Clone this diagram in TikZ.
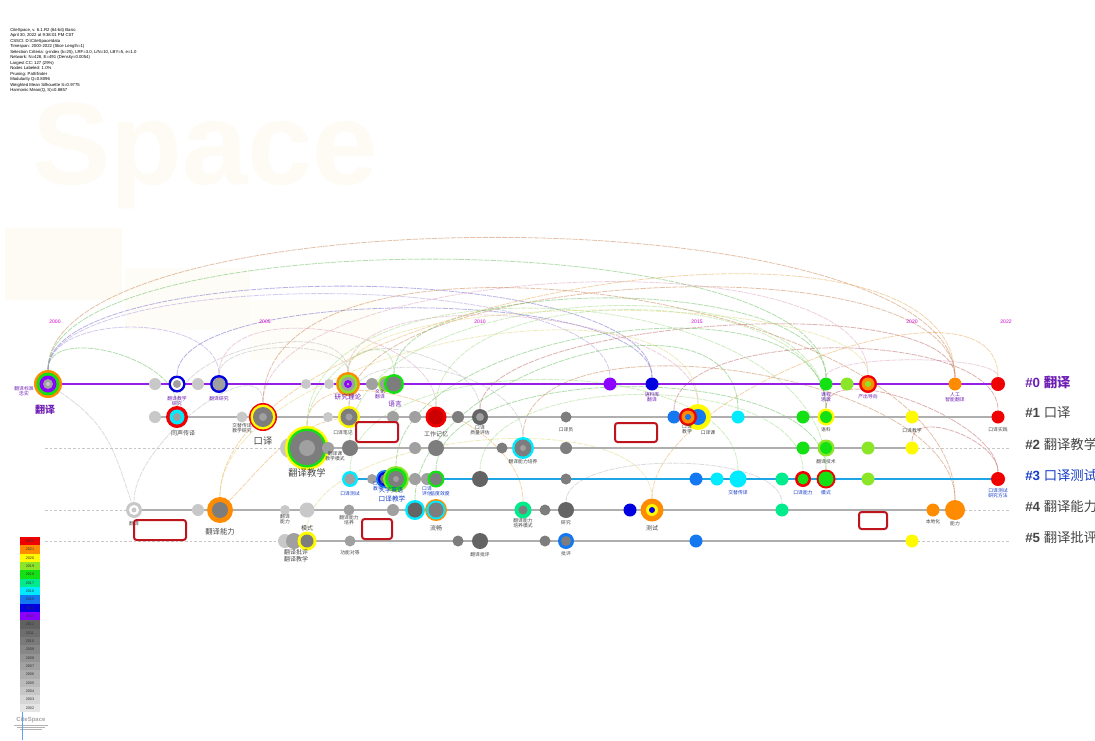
\documentclass[tikz,border=0pt]{standalone}
\usepackage{fontspec}
\setmainfont{Liberation Sans}
\newfontfamily\cjk{Noto Sans CJK SC}
\pgfdeclarelayer{back}
\pgfdeclarelayer{arcs}
\pgfsetlayers{back,arcs,main}
\definecolor{c13}{RGB}{140,0,255}
\definecolor{c14}{RGB}{0,0,225}
\definecolor{c15}{RGB}{20,120,240}
\definecolor{c16}{RGB}{0,235,255}
\definecolor{c17}{RGB}{0,235,140}
\definecolor{c18}{RGB}{20,225,20}
\definecolor{c19}{RGB}{140,230,40}
\definecolor{c20}{RGB}{255,250,0}
\definecolor{c21}{RGB}{255,140,0}
\definecolor{c22}{RGB}{240,0,0}
\definecolor{g1}{RGB}{200,200,200}
\definecolor{g2}{RGB}{160,160,160}
\definecolor{g3}{RGB}{125,125,125}
\definecolor{g4}{RGB}{100,100,100}
\definecolor{linep}{RGB}{150,30,230}
\definecolor{lineb}{RGB}{30,165,230}
\definecolor{lineg}{RGB}{175,175,175}
\definecolor{labp}{RGB}{110,30,180}
\definecolor{labg}{RGB}{70,70,70}
\definecolor{labb}{RGB}{20,60,200}
\definecolor{yearc}{RGB}{210,0,210}
\definecolor{boxred}{RGB}{190,20,30}
\definecolor{wm}{RGB}{253,251,244}
\definecolor{arcbr}{RGB}{200,130,80}
\definecolor{arcgr}{RGB}{100,190,90}
\definecolor{arcbl}{RGB}{110,100,200}
\definecolor{arclav}{RGB}{170,150,220}
\definecolor{arcpk}{RGB}{220,160,190}
\definecolor{arclg}{RGB}{160,220,130}
\definecolor{arcrd}{RGB}{190,100,100}
\definecolor{arcor}{RGB}{235,170,90}
\definecolor{arcyl}{RGB}{225,215,120}
\definecolor{arcgy}{RGB}{185,185,185}
\tikzset{
  arcst/.style={line width=0.6pt, opacity=0.5, dash pattern=on 4pt off 0.8pt},
  lbl/.style={font=\cjk\fontsize{3.6}{4}\selectfont, text=labg, align=center, inner sep=0},
  lblp/.style={lbl, text=labp},
  lblb/.style={lbl, text=labb},
  yr/.style={font=\fontsize{3.8}{4}\selectfont, text=yearc, inner sep=0},
  clus/.style={font=\fontsize{10}{12}\selectfont, anchor=west, inner sep=0},
  annot/.style={draw=boxred, line width=1.5pt, rounded corners=2pt},
  rowline/.style={line width=1.4pt},
  dashrow/.style={draw=lineg!70, line width=0.5pt, dash pattern=on 2pt off 1.5pt},
}
\newcommand\nd[5]{%
  \foreach \rr/\cc in {#5}{\fill[\cc] (#2,#3) circle[radius=\rr];}
  \node[circle, inner sep=0, minimum size=#4*1.5pt] (#1) at (#2,#3) {};}
\newcommand\arcc[4]{\draw[arcst, #4] (#1) .. controls +(0,-#3) and +(0,-#3) .. (#2);}
\begin{document}
\begin{tikzpicture}[x=0.75pt, y=-0.75pt]
\useasboundingbox (0,0) rectangle (1095,740);
\begin{pgfonlayer}{back}
\fill[white] (0,0) rectangle (1095,740);
\fill[wm] (5,228) rectangle (122,300);
\fill[wm!70] (125,268) rectangle (250,330);
\fill[wm!60] (250,300) rectangle (380,360);
\node[font=\fontsize{88}{88}\selectfont\bfseries, text=wm, inner sep=0] (wmark) at (205,156) {Space};
\end{pgfonlayer}

% header
\node[anchor=north west, align=left, inner sep=0, font=\fontsize{3.2}{4.1}\selectfont] (hdr) at (10,28) {CiteSpace, v. 6.1.R2 (64-bit) Basic\\April 30, 2022 at 9:38:01 PM CST\\CSSCI: D:\textbackslash CiteSpace\textbackslash data\\Timespan: 2000-2022 (Slice Length=1)\\Selection Criteria: g-index (k=25), LRF=3.0, L/N=10, LBY=5, e=1.0\\Network: N=428, E=491 (Density=0.0054)\\Largest CC: 127 (29\%)\\Nodes Labeled: 1.0\%\\Pruning: Pathfinder\\Modularity Q=0.8096\\Weighted Mean Silhouette S=0.9775\\Harmonic Mean(Q, S)=0.8857};

% years
\node[yr] (y00) at (55,322) {2000};
\node[yr] (y05) at (265,322) {2005};
\node[yr] (y10) at (480,322) {2010};
\node[yr] (y15) at (697,322) {2015};
\node[yr] (y20) at (912,322) {2020};
\node[yr] (y22) at (1006,322) {2022};

% dashed guide lines
\draw[dashrow] (45,448) -- (1010,448);
\draw[dashrow] (45,510) -- (1010,510);
\draw[dashrow] (45,541) -- (1010,541);

% row lines
\draw[rowline, linep] (48,384) -- (998,384);
\draw[rowline, lineg] (155,417) -- (998,417);
\draw[rowline, lineg] (290,448) -- (912,448);
\draw[rowline, lineb] (350,479) -- (998,479);
\draw[rowline, lineg] (134,510) -- (955,510);
\draw[rowline, lineg] (290,541) -- (912,541);

% row 0
\nd{n0a}{48}{384}{14}{14/c21,11.5/c18,8.5/c13,5/g2,2/g1}
\nd{n0b}{155}{384}{6}{6/g1}
\nd{n0c}{177}{384}{8.5}{8.5/c14,6/white,4/g2}
\nd{n0d}{198}{384}{6}{6/g1}
\nd{n0e}{219}{384}{9}{9/c14,6.5/g2}
\nd{n0f}{306}{384}{5}{5/g1}
\nd{n0g}{329}{384}{5}{5/g1}
\nd{n0h}{348}{384}{12}{12/c21,9.5/c19,7/g2,4/c13,1.5/g2}
\nd{n0i}{372}{384}{6}{6/g2}
\nd{n0j}{386}{384}{8}{8/c19,6/g2}
\nd{n0k}{394}{384}{10}{10/c18,7.5/g3}
\nd{n0l}{610}{384}{6.5}{6.5/c13}
\nd{n0m}{652}{384}{6.5}{6.5/c14}
\nd{n0n}{826}{384}{6.5}{6.5/c18}
\nd{n0o}{847}{384}{6.5}{6.5/c19}
\nd{n0p}{868}{384}{9}{9/c22,6.5/c21,3/c19}
\nd{n0q}{955}{384}{6.5}{6.5/c21}
\nd{n0r}{998}{384}{7}{7/c22}

% row 1
\nd{n1a}{155}{417}{6}{6/g1}
\nd{n1b}{177}{417}{11}{11/c22,7.5/c16,4/g2}
\nd{n1c}{242}{417}{5.5}{5.5/g1}
\nd{n1d}{263}{417}{14}{14/c22,12.5/c20,10/g3,4/g2}
\nd{n1e}{328}{417}{5}{5/g1}
\nd{n1f}{349}{417}{11}{11/c20,8.5/g3,3.5/g2}
\nd{n1g}{393}{417}{6}{6/g2}
\nd{n1h}{415}{417}{6}{6/g2}
\nd{n1i}{436}{417}{10.5}{10.5/c22,7.5/c22!85!black}
\nd{n1j}{458}{417}{6}{6/g3}
\nd{n1k}{480}{417}{8}{8/g4,4/g2}
\nd{n1l}{566}{417}{5.5}{5.5/g3}
\nd{n1m}{674}{417}{6.5}{6.5/c15}
\nd{n1n}{698}{417}{13}{13/c20,8/c15}
\nd{n1o}{688}{417}{9}{9/c22,6.5/c21,3/c15}
\nd{n1p}{738}{417}{6.5}{6.5/c16}
\nd{n1q}{803}{417}{6.5}{6.5/c18}
\nd{n1r}{826}{417}{8.5}{8.5/c20,6/c18}
\nd{n1s}{912}{417}{6.5}{6.5/c20}
\nd{n1t}{998}{417}{6.5}{6.5/c22}

% row 2
\nd{n2a}{290}{448}{10}{10/g1}
\nd{n2b}{307}{448}{22}{22/c20,19.5/c18,17/g3,8/g2}
\nd{n2c}{328}{448}{6}{6/g2}
\nd{n2d}{350}{448}{8}{8/g3}
\nd{n2e}{415}{448}{6}{6/g2}
\nd{n2f}{436}{448}{8}{8/g3}
\nd{n2g}{502}{448}{5.5}{5.5/g3}
\nd{n2h}{523}{448}{11}{11/c16,8.5/g3,3/g2}
\nd{n2i}{566}{448}{6}{6/g3}
\nd{n2j}{803}{448}{6.5}{6.5/c18}
\nd{n2k}{826}{448}{8.5}{8.5/c19,6/c18}
\nd{n2l}{868}{448}{6.5}{6.5/c19}
\nd{n2m}{912}{448}{6.5}{6.5/c20}

% row 3
\nd{n3a}{350}{479}{8}{8/c16,5.5/g2}
\nd{n3b}{372}{479}{5}{5/g2}
\nd{n3c}{385}{479}{9}{9/c15,7/c14,5/g3}
\nd{n3d}{396}{479}{13}{13/c19,11/c18,8/g3,3/g2}
\nd{n3f}{415}{479}{6}{6/g2}
\nd{n3g}{427}{479}{6}{6/g2}
\nd{n3h}{436}{479}{8.5}{8.5/c18,6/g3}
\nd{n3i}{480}{479}{8}{8/g4}
\nd{n3j}{566}{479}{5.5}{5.5/g3}
\nd{n3k}{696}{479}{6.5}{6.5/c15}
\nd{n3l}{717}{479}{6.5}{6.5/c16}
\nd{n3m}{738}{479}{8.5}{8.5/c16}
\nd{n3n}{782}{479}{6.5}{6.5/c17}
\nd{n3o}{803}{479}{8}{8/c22,5.5/c18}
\nd{n3p}{826}{479}{9.5}{9.5/c22,7.5/c18}
\nd{n3q}{868}{479}{6.5}{6.5/c19}
\nd{n3r}{998}{479}{7}{7/c22}

% row 4
\nd{n4a}{134}{510}{8}{8/g1,5/white,2.5/g1}
\nd{n4b}{198}{510}{6}{6/g1}
\nd{n4c}{220}{510}{13}{13/c21,8/g3}
\nd{n4d}{285}{510}{5}{5/g1}
\nd{n4e}{307}{510}{7.5}{7.5/g1}
\nd{n4f}{349}{510}{5.5}{5.5/g2}
\nd{n4g}{393}{510}{6}{6/g2}
\nd{n4h}{415}{510}{10}{10/c16,7.5/g4}
\nd{n4i}{436}{510}{11}{11/c21,9.5/c16,7.5/g3}
\nd{n4j}{523}{510}{8.5}{8.5/c17,4.5/g3}
\nd{n4k}{545}{510}{5.5}{5.5/g3}
\nd{n4l}{566}{510}{8}{8/g4}
\nd{n4m}{630}{510}{6.5}{6.5/c14}
\nd{n4n}{652}{510}{11.5}{11.5/c21,6/c20,3/c14}
\nd{n4o}{782}{510}{6.5}{6.5/c17}
\nd{n4p}{933}{510}{6.5}{6.5/c21}
\nd{n4q}{955}{510}{10}{10/c21}

% row 5
\nd{n5z}{285}{541}{7}{7/g1}
\nd{n5a}{294}{541}{8}{8/g2}
\nd{n5b}{307}{541}{9.5}{9.5/c20,6.5/g3}
\nd{n5c}{350}{541}{5.5}{5.5/g2}
\nd{n5d}{458}{541}{5.5}{5.5/g3}
\nd{n5e}{480}{541}{8}{8/g4}
\nd{n5f}{545}{541}{5.5}{5.5/g3}
\nd{n5g}{566}{541}{8}{8/c15,5/g3}
\nd{n5h}{696}{541}{6.5}{6.5/c15}
\nd{n5i}{912}{541}{6.5}{6.5/c20}

% arcs
\begin{pgfonlayer}{arcs}
\arcc{n0a}{n0q}{192}{arcbr}
\arcc{n0a}{n0n}{163}{arcgr}
\arcc{n0a}{n0m}{127}{arcbl}
\arcc{n0a}{n0l}{117}{arclav}
\arcc{n0c}{n0m}{99}{arcbl}
\arcc{n1d}{n0p}{153}{arcpk}
\arcc{n1f}{n0q}{147}{arcbr}
\arcc{n0k}{n0n}{112}{arcgr}
\arcc{n1i}{n1r}{140}{arclg}
\arcc{n2d}{n1r}{165}{arclg}
\arcc{n1k}{n0q}{97}{arcrd}
\arcc{n0h}{n1n}{107}{arcpk}
\arcc{n4c}{n0q}{210}{arcor}
\arcc{n0a}{n1b}{60}{arcgr}
\arcc{n0a}{n0e}{72}{arclav}
\arcc{n2b}{n3p}{200}{arclg}
\arcc{n3d}{n1r}{150}{arcgr}
\arcc{n4n}{n0r}{120}{arcor}
\arcc{n1d}{n4q}{220}{arcbr}
\arcc{n0n}{n0r}{30}{arcpk}
\arcc{n2m}{n3r}{40}{arcrd}
\arcc{n1r}{n3r}{60}{arcrd}
\arcc{n2b}{n0k}{70}{arclg}
\arcc{n0h}{n1k}{60}{arcgy}
\arcc{n1f}{n2h}{80}{arcgy}
\arcc{n3h}{n3p}{120}{arcgr}
\arcc{n4h}{n1p}{140}{arcgr}
\arcc{n2b}{n4j}{100}{arcor}
\arcc{n4c}{n1n}{160}{arcyl}
\arcc{n1b}{n0h}{70}{arcgy}
\arcc{n0e}{n1i}{90}{arcpk}
\arcc{n3a}{n3m}{130}{arclg}
\arcc{n4l}{n4o}{60}{arcgy}
\arcc{n5b}{n4n}{110}{arcyl}
\arcc{n1m}{n1t}{90}{arcrd}
\arcc{n2h}{n4q}{140}{arcbr}
\arcc{n0e}{n0h}{45}{arcgy}
\arcc{n4a}{n1d}{70}{arcgy}
\arcc{n0h}{n0p}{95}{arcyl}
\arcc{n3i}{n3o}{110}{arclg}
\draw[arcst, arcgy] (n0a) .. controls +(60,40) and +(-20,-60) .. (n4a);
\draw[arcst, arcor] (n4c) .. controls +(40,-40) and +(-60,10) .. (n1f);
\end{pgfonlayer}

% labels
\node[lblp] (l0a) at (24,391) {翻译标准\\忠实};
\node[font=\cjk\fontsize{7.5}{8}\selectfont\bfseries, text=labp, inner sep=0] (L0) at (45,410) {翻译};
\node[lblp] (l0c) at (177,401) {翻译教学\\研究};
\node[lblp] (l0e) at (219,399) {翻译研究};
\node[lblp, font=\cjk\fontsize{5}{6}\selectfont] (l0h) at (348,397) {研究理论};
\node[lblp] (l0j) at (380,394) {文化\\翻译};
\node[lblp, font=\cjk\fontsize{5}{6}\selectfont] (l0k) at (395,404) {语言};
\node[lblp] (l0m) at (652,397) {语料库\\翻译};
\node[lblp] (l0n) at (826,397) {课程\\思政};
\node[lblp] (l0p) at (868,397) {产出导向};
\node[lblp] (l0q) at (955,397) {人工\\智能翻译};
\node[lbl, font=\cjk\fontsize{4.5}{5}\selectfont] (l1b) at (183,433) {同声传译};
\node[lbl] (l1c) at (242,428) {交替传译\\教学研究};
\node[font=\cjk\fontsize{7}{8}\selectfont, text=labg, inner sep=0] (L1) at (263,441) {口译};
\node[lbl] (l1f) at (343,433) {口译笔记};
\node[lbl, font=\cjk\fontsize{4.5}{5}\selectfont] (l1i) at (436,434) {工作记忆};
\node[lbl] (l1k) at (480,430) {口译\\质量评估};
\node[lbl] (l1l) at (566,430) {口译员};
\node[lbl] (l1o) at (687,429) {口译\\教学};
\node[lbl] (l1n) at (708,433) {口译课};
\node[lbl] (l1r) at (826,430) {语料};
\node[lbl] (l1s) at (912,431) {口译教学};
\node[lbl] (l1t) at (998,430) {口译实践};
\node[lbl] (l2c) at (335,456) {翻译课\\教学模式};
\node[font=\cjk\fontsize{7}{8}\selectfont, text=labg, inner sep=0] (L2) at (307,473) {翻译教学};
\node[lbl] (l2h) at (523,462) {翻译能力培养};
\node[lbl] (l2k) at (826,462) {翻译技术};
\node[lblb] (l3a) at (350,494) {口译测试};
\node[lblb] (l3c) at (378,486) {口译\\教学};
\node[lblb, font=\cjk\fontsize{4.5}{5}\selectfont] (l3d) at (391,490) {大学英语};
\node[lblb, font=\cjk\fontsize{5}{6}\selectfont] (l3e) at (392,499) {口译教学};
\node[lblb] (l3g) at (427,491) {口译\\评估};
\node[lblb] (l3h) at (440,494) {信度效度};
\node[lblb] (l3m) at (738,493) {交替传译};
\node[lblb] (l3o) at (803,493) {口译能力};
\node[lblb] (l3p) at (826,493) {模式};
\node[lblb] (l3r) at (998,493) {口译测试\\研究方法};
\node[lbl] (l4a) at (134,524) {翻译};
\node[font=\cjk\fontsize{5.5}{6}\selectfont, text=labg, inner sep=0] (L4) at (220,532) {翻译能力};
\node[lbl] (l4d) at (285,519) {翻译\\能力};
\node[lbl] (l4f) at (349,520) {翻译能力\\培养};
\node[lbl, font=\cjk\fontsize{4.5}{5}\selectfont] (l4i) at (436,528) {流畅};
\node[lbl] (l4j) at (523,523) {翻译能力\\培养模式};
\node[lbl] (l4l) at (566,523) {研究};
\node[lbl, font=\cjk\fontsize{4.5}{5}\selectfont] (l4n) at (652,528) {测试};
\node[lbl] (l4p) at (933,522) {本地化};
\node[lbl] (l4q) at (955,524) {能力};
\node[lbl, font=\cjk\fontsize{4.5}{5}\selectfont] (l5b) at (307,528) {模式};
\node[lbl, font=\cjk\fontsize{4.5}{5}\selectfont] (l5a) at (296,556) {翻译批评\\翻译教学};
\node[lbl] (l5c) at (350,553) {功能对等};
\node[lbl] (l5e) at (480,555) {翻译批评};
\node[lbl] (l5g) at (566,554) {批评};

% annotation boxes
\draw[annot] (356,422) rectangle (398,442);
\draw[annot] (615,423) rectangle (657,442);
\draw[annot] (134,520) rectangle (186,540);
\draw[annot] (362,519) rectangle (392,539);
\draw[annot] (859,512) rectangle (887,529);

% cluster labels
\node[clus, text=labp] (k0) at (1025,382) {\textbf{\#0} {\cjk\bfseries 翻译}};
\node[clus, text=labg] (k1) at (1025,413) {\textbf{\#1} {\cjk 口译}};
\node[clus, text=labg] (k2) at (1025,444) {\textbf{\#2} {\cjk 翻译教学}};
\node[clus, text=labb] (k3) at (1025,475) {\textbf{\#3} {\cjk 口译测试}};
\node[clus, text=labg] (k4) at (1025,506) {\textbf{\#4} {\cjk 翻译能力}};
\node[clus, text=labg] (k5) at (1025,537) {\textbf{\#5} {\cjk 翻译批评}};

% legend
\foreach \yy/\col [count=\i from 0] in {2022/c22,2021/c21,2020/c20,2019/c19,2018/c18,2017/c17,2016/c16,2015/c15,2014/c14,2013/c13,2012/black!62,2011/black!57,2010/black!52,2009/black!47,2008/black!42,2007/black!37,2006/black!32,2005/black!27,2004/black!22,2003/black!16,2002/black!10}{
  \fill[\col] (20,537+\i*8.33) rectangle (40,545.33+\i*8.33);
  \node[font=\fontsize{2.8}{3}\selectfont, text=black!80, inner sep=0] (leg\i) at (30,541.2+\i*8.33) {\yy};
}
% logo
\node[font=\fontsize{4.5}{5}\selectfont\bfseries, text=black!35, inner sep=0] (logo) at (31,720) {CiteSpace};
\draw[black!30, line width=0.4pt] (14,725) -- (48,725) (17,727) -- (45,727) (20,729) -- (42,729);
\draw[c15!70, line width=0.4pt] (22,712) -- (22,740);
\end{tikzpicture}
\end{document}
